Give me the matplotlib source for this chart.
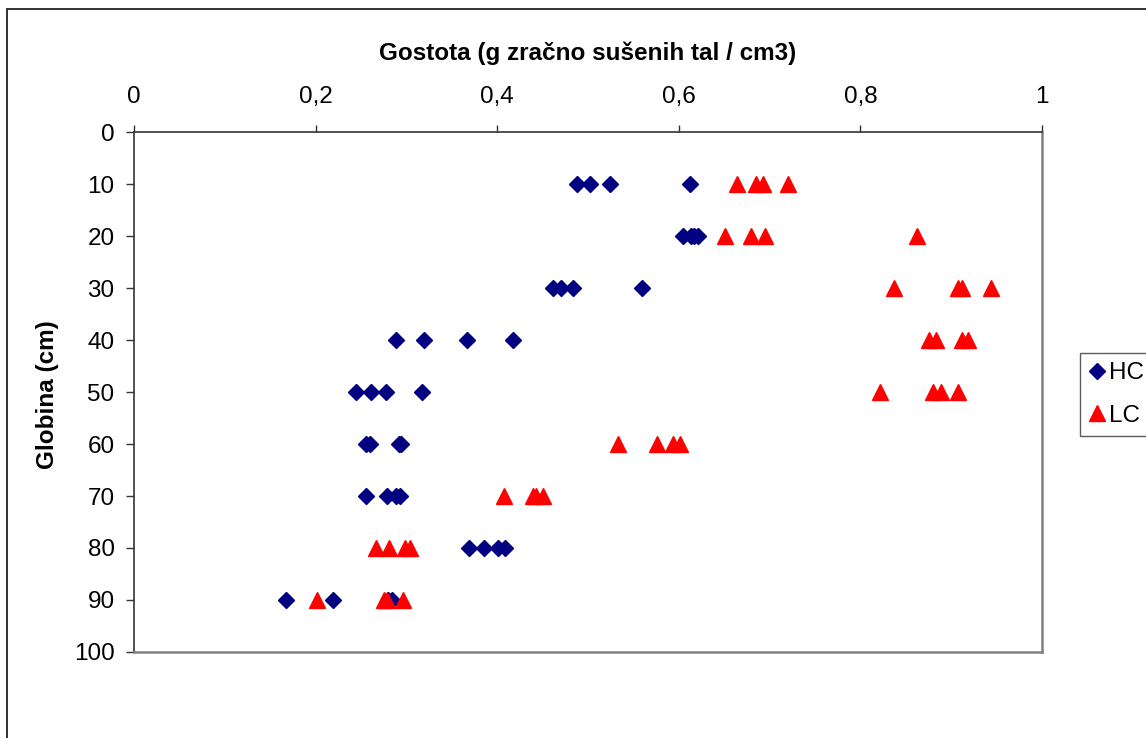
import matplotlib.pyplot as plt
from matplotlib.patches import Rectangle

plt.rcParams['font.family'] = ['Liberation Sans', 'DejaVu Sans']

# depth (cm) for each group of four samples
depths = [10, 20, 30, 40, 50, 60, 70, 80, 90]

# bulk density, HC profile (4 samples per depth)
hc = [
    [0.488, 0.502, 0.524, 0.612],
    [0.605, 0.613, 0.617, 0.621],
    [0.461, 0.470, 0.483, 0.560],
    [0.288, 0.319, 0.367, 0.417],
    [0.244, 0.261, 0.278, 0.317],
    [0.255, 0.260, 0.292, 0.294],
    [0.255, 0.279, 0.288, 0.293],
    [0.369, 0.385, 0.401, 0.409],
    [0.167, 0.219, 0.280, 0.284],
]

# bulk density, LC profile
lc = [
    [0.664, 0.685, 0.693, 0.720],
    [0.651, 0.680, 0.695, 0.862],
    [0.837, 0.907, 0.912, 0.944],
    [0.876, 0.883, 0.912, 0.919],
    [0.822, 0.880, 0.889, 0.908],
    [0.533, 0.576, 0.594, 0.601],
    [0.407, 0.439, 0.443, 0.450],
    [0.267, 0.281, 0.299, 0.304],
    [0.201, 0.275, 0.279, 0.296],
]

xticks = [0, 0.2, 0.4, 0.6, 0.8, 1]
xlabels = ['0', '0,2', '0,4', '0,6', '0,8', '1']
yticks = list(range(0, 101, 10))

W, H = 1146, 738
fs = 17.5
fig = plt.figure(figsize=(W / 100, H / 100), dpi=100)
ax = fig.add_axes([134 / W, 1 - 652 / H, 908 / W, 520 / H])

hc_x = [v for row in hc for v in row]
hc_y = [d for d, row in zip(depths, hc) for _ in row]
lc_x = [v for row in lc for v in row]
lc_y = [d for d, row in zip(depths, lc) for _ in row]

ax.plot(hc_x, hc_y, ls='none', marker='D', ms=8.5, color='#000080',
        mec='#000080', label='HC', clip_on=False)
ax.plot(lc_x, lc_y, ls='none', marker='^', ms=11.5, color='#FF0000',
        mec='#FF0000', label='LC', clip_on=False)

ax.set_xlim(0, 1)
ax.set_ylim(100, 0)
ax.xaxis.tick_top()
ax.set_xticks(xticks)
ax.set_xticklabels(xlabels)
ax.set_yticks(yticks)
ax.tick_params(axis='x', direction='out', length=5, width=1, pad=12,
               labelsize=fs, color='#333333')
ax.tick_params(axis='y', direction='out', length=6, width=1, pad=8,
               labelsize=fs, color='#333333')

for s in ['top', 'left']:
    ax.spines[s].set_color('#333333')
    ax.spines[s].set_linewidth(1.2)
for s in ['bottom', 'right']:
    ax.spines[s].set_color('#808080')
    ax.spines[s].set_linewidth(1.8)

fig.text(588 / W, 1 - 53 / H, 'Gostota (g zračno sušenih tal / cm3)',
         ha='center', va='center', fontsize=fs, fontweight='bold')
fig.text(48 / W, 1 - 395 / H, 'Globina (cm)', ha='center', va='center',
         rotation=90, fontsize=fs, fontweight='bold')

leg = ax.legend(loc='upper left', bbox_to_anchor=(1080 / W, 1 - 353 / H),
                bbox_transform=fig.transFigure, frameon=True, fancybox=False,
                fontsize=fs, handlelength=0.6, handletextpad=0.2,
                borderpad=0.38, labelspacing=0.85, borderaxespad=0)
leg.get_frame().set_edgecolor('#333333')
leg.get_frame().set_linewidth(1)

# outer chart border (runs past the right and bottom edges)
fig.patches.append(Rectangle((7 / W, -0.1), 1.2, 1.1 - 9 / H,
                             transform=fig.transFigure, fill=False,
                             edgecolor='#222222', linewidth=1.3))

fig.savefig('out.png', dpi=100)
